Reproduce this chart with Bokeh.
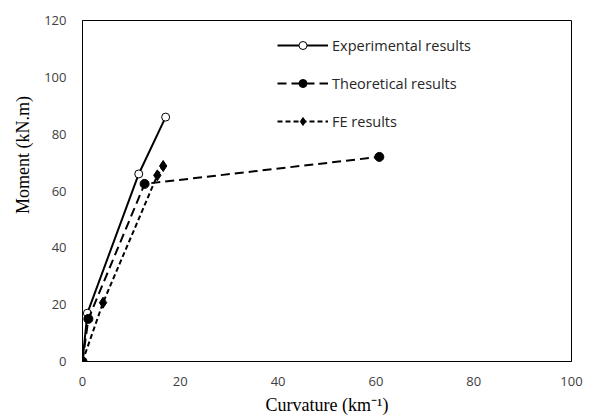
from bokeh.plotting import figure
from bokeh.models import Range1d, FixedTicker, Legend, LegendItem
from bokeh.embed import file_html
from bokeh.resources import INLINE

# Data
exp_x = [0, 1.0, 11.5, 17.0]
exp_y = [0, 17.0, 66.0, 86.0]
theo_x = [0, 1.2, 12.7, 60.7]
theo_y = [0, 15.0, 62.5, 72.0]
fe_x = [0, 4.2, 15.3, 16.5]
fe_y = [0, 20.7, 65.5, 68.8]

x_ticks = [0, 20, 40, 60, 80, 100]
y_ticks = [0, 20, 40, 60, 80, 100, 120]

p = figure(width=597, height=419, output_backend="svg", toolbar_location=None,
           x_range=Range1d(0, 100), y_range=Range1d(0, 120),
           min_border_left=82, min_border_right=26, min_border_top=20, min_border_bottom=58)
p.xgrid.visible = False
p.ygrid.visible = False
p.outline_line_color = "black"
p.outline_line_width = 1
p.background_fill_color = "white"

for ax in (p.xaxis[0], p.yaxis[0]):
    ax.axis_line_color = "black"
    ax.major_tick_line_color = None
    ax.minor_tick_line_color = None
    ax.major_label_text_font = "Open Sans"
    ax.major_label_text_font_size = "13px"
    ax.major_label_text_color = "#404040"
    ax.axis_label_text_font = "Liberation Serif"
    ax.axis_label_text_font_size = "18px"
    ax.axis_label_text_font_style = "normal"
    ax.axis_label_text_color = "black"
p.xaxis.ticker = FixedTicker(ticks=x_ticks)
p.yaxis.ticker = FixedTicker(ticks=y_ticks)
p.xaxis.axis_label = "Curvature (km\u207b\u00b9)"
# leading no-break spaces lift the title above the frame's centre, as in the reference
p.yaxis.axis_label = "\u00a0" * 16 + "Moment (kN.m)"
p.xaxis.major_label_standoff = 9
p.yaxis.major_label_standoff = 10
p.xaxis.axis_label_standoff = 6
p.yaxis.axis_label_standoff = 8

l1 = p.line(exp_x, exp_y, line_color="black", line_width=2)
m1 = p.scatter(exp_x, exp_y, marker="circle", size=8, fill_color="white", line_color="black", line_width=1)
l2 = p.line(theo_x, theo_y, line_color="black", line_width=2, line_dash="9 5")
m2 = p.scatter(theo_x, theo_y, marker="circle", size=9, fill_color="black", line_color="black", line_width=1)
l3 = p.line(fe_x, fe_y, line_color="black", line_width=2, line_dash="5 3")
m3 = p.scatter(fe_x, fe_y, marker="diamond", size=11, fill_color="black", line_color="black")

legend = Legend(items=[
    LegendItem(label="Experimental results", renderers=[l1, m1]),
    LegendItem(label="Theoretical results", renderers=[l2, m2]),
    LegendItem(label="FE results", renderers=[l3, m3]),
], location=(195, 230))
legend.glyph_width = 51
legend.glyph_height = 20
legend.label_height = 20
legend.spacing = 18
legend.padding = 0
legend.margin = 0
legend.label_standoff = 4
legend.border_line_color = None
legend.background_fill_alpha = 0
legend.label_text_font = "Open Sans"
legend.label_text_font_size = "14.5px"
legend.label_text_color = "#262626"
p.add_layout(legend, "center")

open("out.html", "w").write(file_html(p, INLINE))
